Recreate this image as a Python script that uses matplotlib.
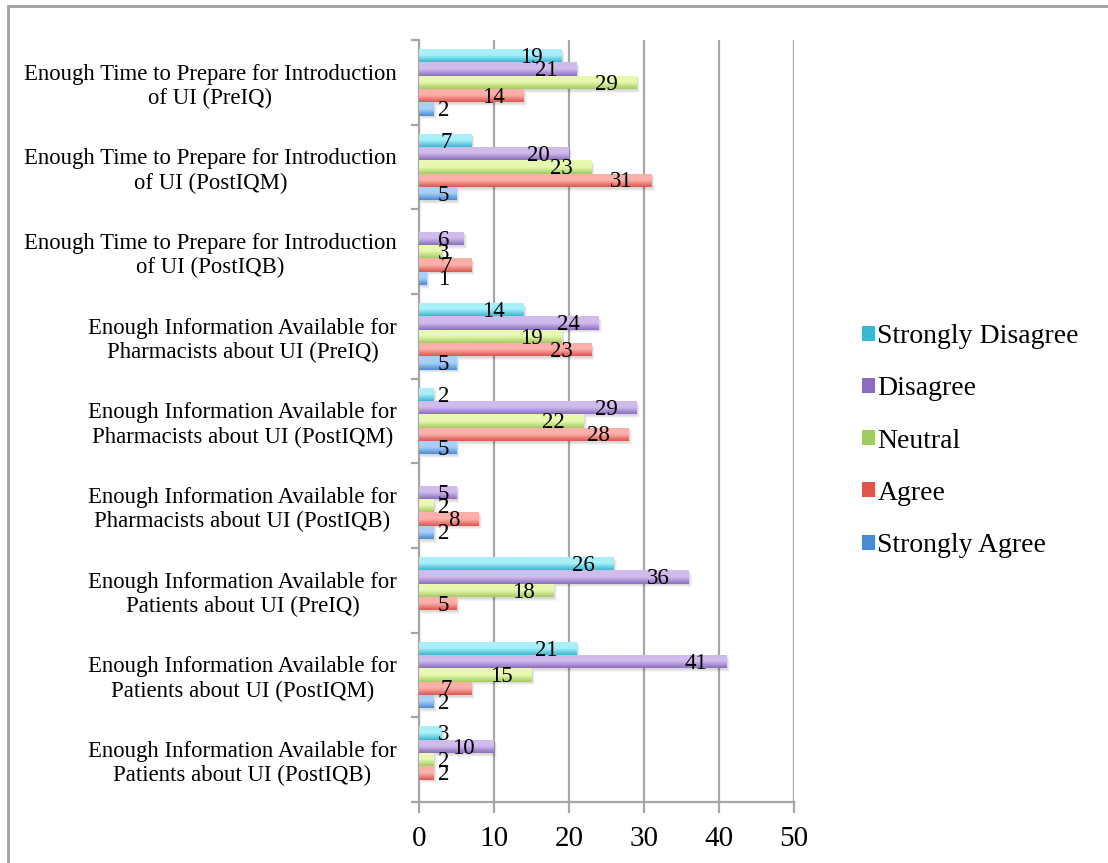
import numpy as np
import matplotlib
matplotlib.use("Agg")
import matplotlib.pyplot as plt
from matplotlib.colors import LinearSegmentedColormap
from matplotlib.patches import Patch, Rectangle

plt.rcParams['font.family'] = ['Liberation Serif', 'DejaVu Serif']

categories = [
    "Enough Time to Prepare for Introduction\nof UI (PreIQ)",
    "Enough Time to Prepare for Introduction\nof UI (PostIQM)",
    "Enough Time to Prepare for Introduction\nof UI (PostIQB)",
    "Enough Information Available for\nPharmacists about UI (PreIQ)",
    "Enough Information Available for\nPharmacists about UI (PostIQM)",
    "Enough Information Available for\nPharmacists about UI (PostIQB)",
    "Enough Information Available for\nPatients about UI (PreIQ)",
    "Enough Information Available for\nPatients about UI (PostIQM)",
    "Enough Information Available for\nPatients about UI (PostIQB)",
]

# None = no response recorded in that group
strongly_agree = [2, 5, 1, 5, 5, 2, None, 2, None]
agree = [14, 31, 7, 23, 28, 8, 5, 7, 2]
neutral = [29, 23, 3, 19, 22, 2, 18, 15, 2]
disagree = [21, 20, 6, 24, 29, 5, 36, 41, 10]
strongly_disagree = [19, 7, None, 14, 2, None, 26, 21, 3]

series_names = ["Strongly Agree", "Agree", "Neutral", "Disagree", "Strongly Disagree"]
series_values = [strongly_agree, agree, neutral, disagree, strongly_disagree]
# (top, bottom) colours for the bar gradients
series_colors = [
    ("#a8d0f6", "#4a8ad2"),
    ("#fbb0aa", "#dc564c"),
    ("#e8f8b0", "#a2cc60"),
    ("#d0bcec", "#8c6cbe"),
    ("#a8f0fa", "#3ab8d2"),
]

x_ticks = [0, 10, 20, 30, 40, 50]

fig = plt.figure(figsize=(11.08, 8.63), dpi=100)
ax = fig.add_axes([419 / 1108, 1 - 802 / 863, 375 / 1108, 762 / 863])

n_cat = len(categories)
y_centers = np.arange(n_cat)[::-1]  # first category at the top
bar_h = 0.157
offsets = np.array([-2, -1, 0, 1, 2]) * bar_h
grad = np.linspace(0, 1, 64).reshape(-1, 1)

for vals, off, (c_top, c_bot) in zip(series_values, offsets, series_colors):
    idx = [i for i, v in enumerate(vals) if v is not None]
    v = np.array([vals[i] for i in idx], dtype=float)
    y = y_centers[idx] + off
    # soft drop shadow
    for k, a in enumerate([0.06, 0.05, 0.04]):
        ax.barh(y - 0.02 - 0.012 * k, v, height=bar_h, left=0.15 + 0.12 * k,
                color="#000000", alpha=a, linewidth=0, zorder=2)
    bars = ax.barh(y, v, height=bar_h, color="none", linewidth=0, zorder=3)
    cmap = LinearSegmentedColormap.from_list("g", [c_top, c_top, c_bot])
    for rect, val in zip(bars, v):
        x0, y0 = rect.get_x(), rect.get_y()
        im = ax.imshow(grad, cmap=cmap, aspect="auto", origin="upper",
                       extent=(x0, x0 + rect.get_width(), y0, y0 + rect.get_height()),
                       zorder=3, interpolation="bilinear")
        im.set_clip_path(rect)
        # value label near the inner end of the bar
        w = 1.45 * len(str(int(val)))
        lx = max(val - 2.67 - w, 2.53)
        ax.text(lx, y0 + rect.get_height() / 2 - 0.02, str(int(val)),
                ha="left", va="center", fontsize=16.5, color="black", zorder=5)

ax.set_xlim(0, 50)
ax.set_ylim(-0.5, n_cat - 0.5)

grid_c = "#a6a6a6"
ax.set_xticks(x_ticks)
ax.set_xticklabels([str(t) for t in x_ticks], fontsize=21)
ax.xaxis.grid(True, color=grid_c, linewidth=1.6, zorder=0)
ax.set_axisbelow(True)

ax.set_yticks(np.arange(n_cat + 1) - 0.5)
ax.set_yticklabels([])
ax.set_yticks(y_centers, categories, minor=True, multialignment="center", fontsize=16.4)
ax.tick_params(axis="y", which="major", length=6, width=1.6, color=grid_c, direction="out")
ax.tick_params(axis="y", which="minor", length=0, pad=16)
ax.tick_params(axis="x", length=8, width=1.6, color=grid_c, pad=9)

for s in ["top", "right"]:
    ax.spines[s].set_visible(False)
for s in ["left", "bottom"]:
    ax.spines[s].set_color(grid_c)
    ax.spines[s].set_linewidth(1.6)

handles = [Patch(facecolor=series_colors[i][1], edgecolor="none") for i in range(4, -1, -1)]
labels = [series_names[i] for i in range(4, -1, -1)]
fig.legend(handles, labels, loc="center left", bbox_to_anchor=(862 / 1108, 1 - 441 / 863),
           frameon=False, fontsize=20, handlelength=0.45, handleheight=0.45,
           handletextpad=0.1, labelspacing=0.98, borderaxespad=0, borderpad=0)

# outer chart frame
fig.patches.append(Rectangle((8 / 1108, -0.1), 1.2, 1.1 - 6 / 863, transform=fig.transFigure,
                             fill=False, edgecolor="#a0a0a0", linewidth=2))

fig.savefig("out.png", dpi=100)
